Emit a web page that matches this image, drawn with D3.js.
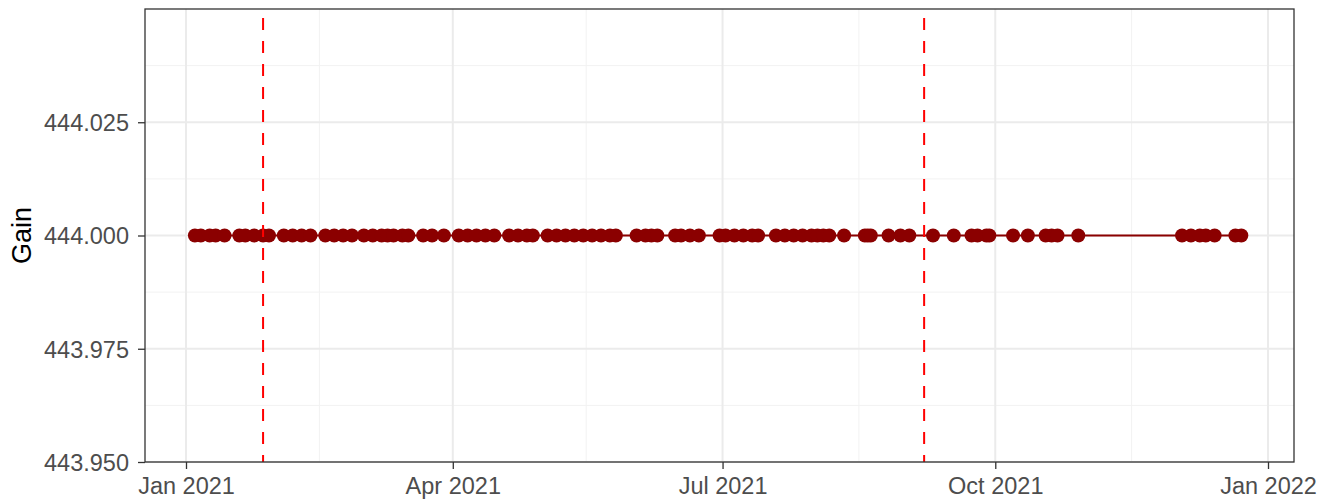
<!DOCTYPE html>
<html>
<head>
<meta charset="utf-8">
<script src="https://cdn.jsdelivr.net/npm/d3@7"></script>
<style>
  body { margin: 0; background: #fff; }
  svg { font-family: "Liberation Sans", Arial, sans-serif; }
</style>
</head>
<body>
<svg id="chart" width="1319" height="501"></svg>
<script>
// observation dates (all at the same gain value)
var dates = [
  "2021-01-04","2021-01-06","2021-01-09","2021-01-11","2021-01-14",
  "2021-01-19","2021-01-21","2021-01-24","2021-01-27","2021-01-29",
  "2021-02-03","2021-02-06","2021-02-09","2021-02-12",
  "2021-02-17","2021-02-20","2021-02-23","2021-02-26",
  "2021-03-02","2021-03-05","2021-03-08","2021-03-10","2021-03-12","2021-03-15","2021-03-17",
  "2021-03-22","2021-03-25","2021-03-29",
  "2021-04-03","2021-04-06","2021-04-09","2021-04-12","2021-04-15",
  "2021-04-20","2021-04-23","2021-04-26","2021-04-28",
  "2021-05-03","2021-05-06","2021-05-09","2021-05-12","2021-05-15","2021-05-18","2021-05-21","2021-05-24","2021-05-26",
  "2021-06-02","2021-06-05","2021-06-07","2021-06-09",
  "2021-06-15","2021-06-17","2021-06-20","2021-06-23",
  "2021-06-30","2021-07-02","2021-07-05","2021-07-08","2021-07-11","2021-07-13",
  "2021-07-19","2021-07-22","2021-07-25","2021-07-28","2021-07-31",
  "2021-08-02","2021-08-04","2021-08-06","2021-08-11",
  "2021-08-18","2021-08-19","2021-08-20","2021-08-26","2021-08-30","2021-09-02",
  "2021-09-10","2021-09-17","2021-09-23","2021-09-25","2021-09-28","2021-09-29",
  "2021-10-07","2021-10-12","2021-10-18","2021-10-20","2021-10-22","2021-10-29",
  "2021-12-03","2021-12-06","2021-12-09","2021-12-11","2021-12-14","2021-12-21","2021-12-23"
];
var gain = 444.0;
var vlines = ["2021-01-27","2021-09-07"];
var xTicks = ["2021-01-01","2021-04-01","2021-07-01","2021-10-01","2022-01-01"];
var xMinor = ["2021-02-15","2021-05-16","2021-08-16","2021-11-16"];
var yTicks = [443.95, 443.975, 444.0, 444.025];
var yMinor = [443.9625, 443.9875, 444.0125, 444.0375];

var parse = d3.timeParse("%Y-%m-%d");
var data = dates.map(function(d){ return {date: parse(d), value: gain}; });

var svg = d3.select("#chart");
var m = {left: 145, right: 1294, top: 9, bottom: 462};

var x = d3.scaleTime()
  .domain([parse("2021-01-01"), parse("2022-01-01")])
  .range([186, 1268]);
var y = d3.scaleLinear().domain([443.95, 444.05]).range([m.bottom, m.top]);

var g = svg.append("g");

// minor grid
g.selectAll(".xminor").data(xMinor.map(parse)).enter().append("line")
  .attr("x1", function(d){ return x(d); }).attr("x2", function(d){ return x(d); })
  .attr("y1", m.top).attr("y2", m.bottom)
  .attr("stroke", "#f2f2f2").attr("stroke-width", 1);
g.selectAll(".yminor").data(yMinor).enter().append("line")
  .attr("x1", m.left).attr("x2", m.right)
  .attr("y1", function(d){ return y(d); }).attr("y2", function(d){ return y(d); })
  .attr("stroke", "#f2f2f2").attr("stroke-width", 1);

// major grid
g.selectAll(".xmajor").data(xTicks.map(parse)).enter().append("line")
  .attr("x1", function(d){ return x(d); }).attr("x2", function(d){ return x(d); })
  .attr("y1", m.top).attr("y2", m.bottom)
  .attr("stroke", "#ebebeb").attr("stroke-width", 2);
g.selectAll(".ymajor").data(yTicks).enter().append("line")
  .attr("x1", m.left).attr("x2", m.right)
  .attr("y1", function(d){ return y(d); }).attr("y2", function(d){ return y(d); })
  .attr("stroke", "#ebebeb").attr("stroke-width", 2);

// connecting line
var line = d3.line().x(function(d){ return x(d.date); }).y(function(d){ return y(d.value); });
g.append("path").datum(data)
  .attr("d", line).attr("fill", "none")
  .attr("stroke", "#8b0000").attr("stroke-width", 2);

// points
g.selectAll(".pt").data(data).enter().append("circle")
  .attr("cx", function(d){ return x(d.date); })
  .attr("cy", function(d){ return y(d.value); })
  .attr("r", 7)
  .attr("fill", "#8b0000");

// dashed reference lines
g.selectAll(".vline").data(vlines.map(parse)).enter().append("line")
  .attr("x1", function(d){ return x(d); }).attr("x2", function(d){ return x(d); })
  .attr("y1", m.top + 9).attr("y2", m.bottom)
  .attr("stroke", "#ff0000").attr("stroke-width", 2)
  .attr("stroke-dasharray", "12,11");

// panel border
svg.append("rect")
  .attr("x", m.left).attr("y", m.top)
  .attr("width", m.right - m.left).attr("height", m.bottom - m.top)
  .attr("fill", "none").attr("stroke", "#333333").attr("stroke-width", 1.3);

// axes
var xAxis = svg.append("g").attr("transform", "translate(0," + m.bottom + ")")
  .call(d3.axisBottom(x).tickValues(xTicks.map(parse)).tickFormat(d3.timeFormat("%b %Y")).tickSize(7).tickPadding(6));
var yAxis = svg.append("g").attr("transform", "translate(" + m.left + ",0)")
  .call(d3.axisLeft(y).tickValues(yTicks).tickFormat(d3.format(".3f")).tickSize(7).tickPadding(9));

[xAxis, yAxis].forEach(function(a){
  a.attr("font-size", null).attr("font-family", null);
  a.select(".domain").remove();
  a.selectAll(".tick line").attr("stroke", "#333333").attr("stroke-width", 1.3);
  a.selectAll(".tick text").attr("fill", "#4d4d4d").style("font-size", "23.5px");
});
xAxis.selectAll(".tick text").attr("dy", "0.8em");
yAxis.selectAll(".tick text").attr("dy", "0.36em");

svg.append("text")
  .attr("transform", "translate(31," + ((m.top + m.bottom) / 2) + ") rotate(-90)")
  .attr("text-anchor", "middle")
  .attr("fill", "#000")
  .style("font-size", "27px")
  .text("Gain");
</script>
</body>
</html>
